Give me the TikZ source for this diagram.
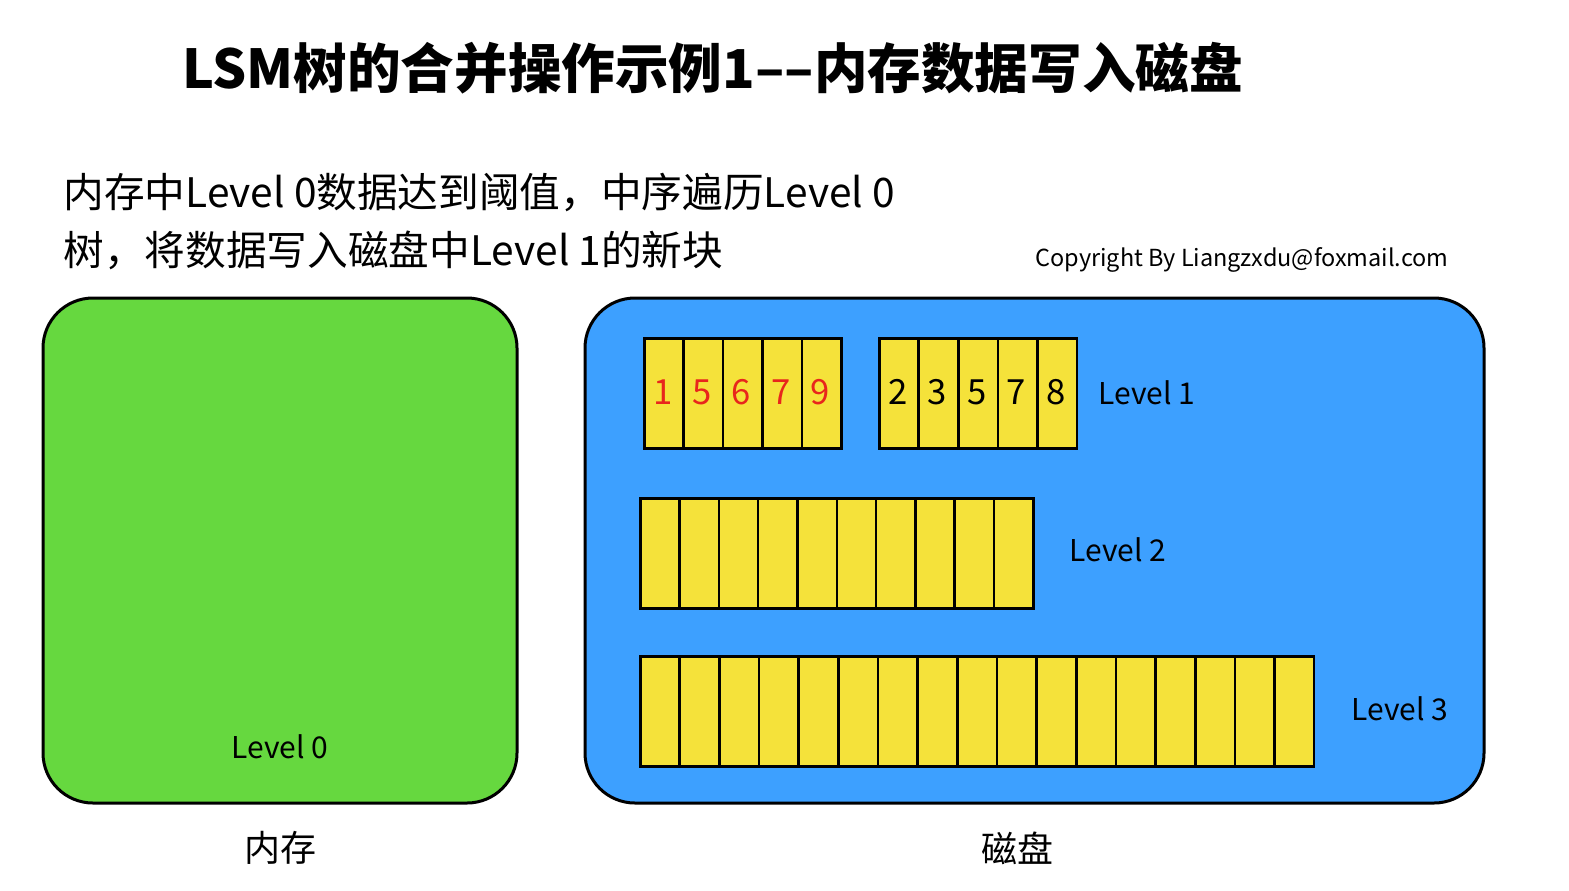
\documentclass[tikz,border=0pt]{standalone}
\usepackage{fontspec}
\setmainfont{Noto Sans CJK SC}
\usetikzlibrary{positioning}

\definecolor{memgreen}{RGB}{102,216,63}
\definecolor{diskblue}{RGB}{61,160,255}
\definecolor{cellyellow}{RGB}{245,226,58}
\definecolor{keyred}{RGB}{232,38,28}

\tikzset{every picture/.style={line width=0.75pt}}
\tikzset{
  area/.style={draw, line width=2.25pt, rounded corners=37.5pt, inner sep=0pt},
  cell/.style={draw, fill=cellyellow, line width=1.9pt, minimum width=29.55pt, minimum height=82.5pt, inner sep=0pt, anchor=north west},
  keytext/.style={font=\fontsize{26}{28}\selectfont, inner sep=0pt},
  lvltext/.style={font=\fontsize{22.5}{25}\selectfont, inner sep=0.75pt},
  desctext/.style={font=\fontsize{30.5}{34}\selectfont, anchor=west, inner sep=0.75pt}
}

\begin{document}
\begin{tikzpicture}[x=0.75pt,y=0.75pt,yscale=-1,xscale=1]
\useasboundingbox (0,0) rectangle (1569,890);

%Shape: Rounded Rect [id:mem] 
\node [area, fill=memgreen, minimum width=355.5pt, minimum height=378.75pt] (mem) at (280,550.5) {};
%Shape: Rounded Rect [id:disk] 
\node [area, fill=diskblue, minimum width=674.25pt, minimum height=378.75pt] (disk) at (1034.5,550.5) {};

%Shape: Cells, Level 1 new block
\foreach \k [count=\i from 0] in {1,5,6,7,9}
  \node [cell] (newc\i) at (643+\i*39.4,337) {};
\foreach \k [count=\i from 0] in {1,5,6,7,9}
  \node [keytext, text=keyred] (newk\i) at (662.7+\i*39.4,392) {\k};
%Shape: Cells, Level 1 old block
\foreach \k [count=\i from 0] in {2,3,5,7,8}
  \node [cell] (oldc\i) at (878+\i*39.6,337) {};
\foreach \k [count=\i from 0] in {2,3,5,7,8}
  \node [keytext] (oldk\i) at (897.8+\i*39.6,392) {\k};
%Shape: Cells, Level 2
\foreach \i in {0,...,9}
  \node [cell] (twoc\i) at (639+\i*39.3,497) {};
%Shape: Cells, Level 3
\foreach \i in {0,...,16}
  \node [cell] (threec\i) at (639+\i*39.65,655) {};

% Text Node
\node [font=\fontsize{40.2}{43}\selectfont\bfseries, inner sep=0.75pt] (title) at (712.5,68) {LSM树的合并操作示例1––内存数据写入磁盘};
% Text Node
\node [desctext] (desc1) at (62,192) {内存中Level 0数据达到阈值，中序遍历Level 0};
% Text Node
\node [desctext] (desc2) at (62,250) {树，将数据写入磁盘中Level 1的新块};
% Text Node
\node [font=\fontsize{17.6}{20}\selectfont, anchor=east, inner sep=0.75pt] (copy) at (1450,260) {Copyright By Liangzxdu@foxmail.com};
% Text Node
\node [lvltext, anchor=west] (lvl1) at (1097,393) {Level 1};
% Text Node
\node [lvltext, anchor=west] (lvl2) at (1068,550) {Level 2};
% Text Node
\node [lvltext, anchor=west] (lvl3) at (1350,709) {Level 3};
% Text Node
\node [lvltext] (lvl0) at (280,747) {Level 0};
% Text Node
\node [font=\fontsize{27}{30}\selectfont, inner sep=0.75pt] (memlabel) at (280,848) {内存};
% Text Node
\node [font=\fontsize{27}{30}\selectfont, inner sep=0.75pt] (disklabel) at (1017,848) {磁盘};

\end{tikzpicture}
\end{document}
